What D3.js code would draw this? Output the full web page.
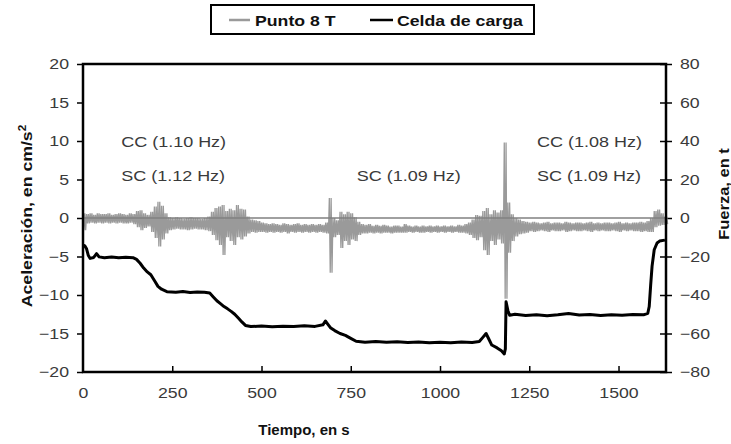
<!DOCTYPE html>
<html>
<head>
<meta charset="utf-8">
<script src="https://d3js.org/d3.v7.min.js"></script>
<style>
  body { margin: 0; background: #fff; }
  text { font-family: "Liberation Sans", Arial, sans-serif; }
</style>
</head>
<body>
<div id="chart"></div>
<script>
// series names
var seriesNames = ["Punto 8 T", "Celda de carga"];

// tick labels
var tickTime = [0, 250, 500, 750, 1000, 1250, 1500];
var tickAcc = [-20, -15, -10, -5, 0, 5, 10, 15, 20];
var tickFza = [-80, -60, -40, -20, 0, 20, 40, 60, 80];

// Celda de carga (t)
var fzaTime = [0, 5, 10, 15, 20, 30, 38, 45, 60, 80, 100, 120, 140, 150, 160, 170, 180, 190, 200, 210, 220, 235,
  260, 280, 300, 320, 340, 355, 365, 375, 385, 395, 405, 415, 425, 435, 445, 455, 470, 500, 530, 560, 590, 620,
  650, 672, 679, 685, 693, 705, 720, 735, 750, 765, 790, 820, 850, 880, 910, 940, 970, 1000, 1030, 1060, 1090,
  1110, 1120, 1129, 1137, 1145, 1160, 1172, 1180, 1183, 1185, 1190, 1195, 1210, 1240, 1270, 1300, 1330, 1360,
  1390, 1420, 1450, 1480, 1510, 1540, 1570, 1582, 1586, 1590, 1594, 1600, 1608, 1615, 1630];
var fzaVal = [-14, -14.5, -16, -19.5, -21, -20.5, -18.5, -20.2, -20.6, -20.3, -20.7, -20.4, -20.6, -21.5, -23.5,
  -26, -28, -29.5, -32.5, -35.5, -37, -38.3, -38.6, -38.2, -38.7, -38.4, -38.6, -39, -41, -43, -44.5, -46, -47.2,
  -48.5, -50, -52, -54, -55.8, -56.4, -56.1, -56.5, -56.2, -56.4, -56, -56.3, -55.5, -53.5, -55, -57, -58.5, -60,
  -61, -62.5, -64, -64.5, -64.2, -64.6, -64.3, -64.7, -64.4, -64.8, -64.5, -64.8, -64.4, -64.7, -64.2, -62, -60,
  -63, -66, -67.5, -69, -70.6, -68, -43.5, -48, -50.5, -50, -50.6, -50.2, -50.8, -50.3, -49.6, -50.4, -50.1,
  -50.6, -50.2, -50.5, -50.1, -50.3, -49.5, -46, -35, -25, -16.5, -13, -12, -11.5];

// Punto 8 T (cm/s2): max and min of the trace in each 10 s window
var accTime = d3.range(0, 1640, 10);
var accHi = [0.6, 0.5, 0.6, 0.4, 0.6, 0.5, 0.5, 0.6, 0.4, 0.5, 0.6, 0.5, 0.4, 0.6, 0.5, 0.9, 1.0, 0.6, 0.4, 0.8,
  1.5, 2.1, 1.6, 0.6, 0.1, 0.0, 0.1, 0.0, -0.1, 0.0, 0.1, 0.0, 0.0, -0.1, 0.0, 0.2, 0.8, 1.3, 1.5, 1.7,
  0.9, 1.2, 1.0, 1.7, 1.2, 1.1, 0.2, -0.2, -0.3, -0.4, -0.6, -0.7, -0.8, -0.7, -0.8, -0.9, -0.7, -0.8, -0.9, -0.8,
  -0.7, -0.9, -0.8, -0.9, -0.8, -0.9, -0.8, -0.9, -0.6, 2.6, 0.0, -0.3, 0.8, 0.5, 0.8, 0.6, 0.1, -0.5, -0.8, -0.9,
  -0.8, -1.0, -0.9, -1.0, -0.9, -1.0, -1.1, -1.0, -1.0, -1.1, -0.8, -1.0, -1.1, -1.0, -1.1, -1.0, -1.1, -1.0, -1.1, -1.0,
  -1.1, -1.0, -1.1, -1.0, -1.1, -0.9, -1.0, -0.8, -0.6, -0.2, 0.4, 0.3, 0.9, 1.3, 0.5, 1.0, 0.7, 1.0, 9.8, 2.0,
  0.5, 0.0, -0.2, -0.4, -0.5, -0.6, -0.5, -0.6, -0.7, -0.6, -0.5, -0.7, -0.6, -0.6, -0.7, -0.5, -0.6, -0.7, -0.6, -0.6,
  -0.7, -0.6, -0.5, -0.7, -0.6, -0.7, -0.6, -0.6, -0.7, -0.6, -0.5, -0.7, -0.6, -0.7, -0.6, -0.6, -0.5, -0.6, -0.4, 0.0,
  0.9, 1.1, 0.6, 0.2];
var accLo = [-1.6, -0.7, -0.6, -0.7, -0.6, -0.7, -0.6, -0.7, -0.6, -0.7, -0.6, -0.7, -0.7, -0.6, -0.8, -1.2, -1.6, -1.3, -1.1, -1.8,
  -2.6, -3.7, -2.8, -2.0, -1.6, -1.5, -1.4, -1.5, -1.5, -1.6, -1.5, -1.4, -1.5, -1.5, -1.6, -1.7, -2.2, -2.9, -3.5, -4.8,
  -2.5, -3.0, -3.5, -2.5, -2.8, -2.4, -2.0, -1.8, -1.9, -1.8, -1.8, -1.9, -1.8, -1.9, -1.8, -1.9, -1.8, -2.0, -1.8, -1.9,
  -1.8, -1.9, -1.8, -1.9, -1.8, -1.9, -1.8, -1.9, -2.0, -7.1, -2.5, -2.2, -3.9, -3.0, -3.5, -2.8, -3.0, -2.2, -2.0, -2.0,
  -1.9, -2.0, -1.9, -2.0, -1.9, -1.9, -2.0, -1.9, -1.9, -1.9, -1.9, -1.8, -1.9, -1.8, -1.9, -1.9, -1.8, -1.9, -1.8, -1.9,
  -1.8, -1.9, -1.8, -1.9, -1.8, -1.9, -1.9, -2.0, -2.2, -2.6, -2.9, -2.5, -4.2, -4.8, -3.0, -3.5, -2.8, -3.3, -10.5, -4.5,
  -3.0, -2.4, -2.1, -2.0, -1.9, -1.7, -1.8, -1.7, -1.6, -1.7, -1.8, -1.6, -1.7, -1.7, -1.6, -1.8, -1.7, -1.6, -1.7, -1.7,
  -1.6, -1.7, -1.8, -1.6, -1.7, -1.6, -1.7, -1.7, -1.6, -1.7, -1.8, -1.6, -1.7, -1.6, -1.7, -1.7, -1.8, -1.7, -1.8, -1.8,
  -1.2, -1.0, -0.9, -0.8];

// text notes, placed in (time, aceleración) units
var noteText = ["CC (1.10 Hz)", "SC (1.12 Hz)", "SC (1.09 Hz)", "CC (1.08 Hz)", "SC (1.09 Hz)"];
var noteTime = [107, 107, 767, 1272, 1272];
var noteAcc = [9.2, 4.8, 4.8, 9.2, 4.8];

var W = 731, H = 444;
var plotL = 83, plotR = 666, plotT = 64, plotB = 372;
var sx = 1.18;   // the original lettering is wide

var svg = d3.select("#chart").append("svg")
    .attr("width", W)
    .attr("height", H);

var x = d3.scaleLinear().domain([0, 1633]).range([plotL, plotR]);
var yAcc = d3.scaleLinear().domain([-20, 20]).range([plotB, plotT]);
var yFza = d3.scaleLinear().domain([-80, 80]).range([plotB, plotT]);

// axes
var axL = svg.append("g").attr("transform", "translate(" + plotL + ",0)")
    .call(d3.axisLeft(yAcc).tickValues(tickAcc).tickSize(6).tickPadding(8));
var axR = svg.append("g").attr("transform", "translate(" + plotR + ",0)")
    .call(d3.axisRight(yFza).tickValues(tickFza).tickSize(6).tickPadding(8));
var axB = svg.append("g").attr("transform", "translate(0," + plotB + ")")
    .call(d3.axisBottom(x).tickValues(tickTime).tickFormat(d3.format("d"))
        .tickSizeInner(-6).tickSizeOuter(0).tickPadding(15));

[axL, axR, axB].forEach(function(a) {
    a.select(".domain").remove();
    a.selectAll(".tick line").attr("stroke", "#000").attr("stroke-width", 1.5);
    a.selectAll(".tick text")
        .style("font-size", "15px")
        .attr("fill", "#3a3a3a")
        .attr("transform", "scale(" + sx + ",1)");
});
axL.selectAll(".tick text").attr("x", -14 / sx);
axR.selectAll(".tick text").attr("x", 14 / sx);
axR.selectAll(".tick line").attr("x1", -6).attr("x2", 6);
axB.selectAll(".tick").filter(function(d) { return d === 0; }).select("line").remove();

// dense trace between the max/min of each window
var accPts = [];
accTime.forEach(function(t, i) {
    accPts.push([t, accHi[i]]);
    accPts.push([t + 2.5, accLo[i]]);
    accPts.push([t + 5, accHi[i]]);
    accPts.push([t + 7.5, accLo[i]]);
});

svg.append("path")
    .datum(accPts)
    .attr("fill", "none")
    .attr("stroke", "#9a9a9a")
    .attr("stroke-width", 1.3)
    .attr("d", d3.line().x(function(d) { return x(d[0]); }).y(function(d) { return yAcc(d[1]); }));

// zero line
svg.append("line")
    .attr("x1", plotL).attr("x2", plotR)
    .attr("y1", yAcc(0)).attr("y2", yAcc(0))
    .attr("stroke", "#808080")
    .attr("stroke-width", 1.5);

svg.append("path")
    .datum(fzaTime.map(function(t, i) { return [t, fzaVal[i]]; }))
    .attr("fill", "none")
    .attr("stroke", "#000")
    .attr("stroke-width", 3)
    .attr("stroke-linejoin", "round")
    .attr("d", d3.line().x(function(d) { return x(d[0]); }).y(function(d) { return yFza(d[1]); }));

// frame
svg.append("rect")
    .attr("x", plotL).attr("y", plotT)
    .attr("width", plotR - plotL).attr("height", plotB - plotT)
    .attr("fill", "none")
    .attr("stroke", "#000")
    .attr("stroke-width", 2.5);

// notes
noteText.forEach(function(s, i) {
    svg.append("text")
        .attr("transform", "translate(" + x(noteTime[i]) + "," + yAcc(noteAcc[i]) + ") scale(1.2,1)")
        .style("font-size", "15px")
        .attr("fill", "#3a3a3a")
        .text(s);
});

// axis titles
var tl = svg.append("text")
    .attr("transform", "translate(32,216) rotate(-90) scale(" + sx + ",1)")
    .attr("text-anchor", "middle")
    .style("font-size", "15px")
    .style("font-weight", "bold")
    .attr("fill", "#111");
tl.append("tspan").text("Aceleración, en cm/s");
tl.append("tspan").attr("dy", -6).style("font-size", "10px").text("2");

svg.append("text")
    .attr("transform", "translate(729,194) rotate(-90) scale(1.1,1)")
    .attr("text-anchor", "middle")
    .style("font-size", "15px")
    .style("font-weight", "bold")
    .attr("fill", "#111")
    .text("Fuerza, en t");

svg.append("text")
    .attr("x", 304).attr("y", 435)
    .attr("text-anchor", "middle")
    .style("font-size", "15px")
    .style("font-weight", "bold")
    .attr("fill", "#111")
    .text("Tiempo, en s");

// legend
var lg = svg.append("g");
lg.append("rect")
    .attr("x", 211).attr("y", 5).attr("width", 323).attr("height", 29)
    .attr("fill", "#fff").attr("stroke", "#000").attr("stroke-width", 2);
var legColor = ["#9a9a9a", "#000"];
var legX = [229, 370];
var legLen = [21, 23];
var legTx = [255, 397];
seriesNames.forEach(function(s, i) {
    lg.append("line")
        .attr("x1", legX[i]).attr("x2", legX[i] + legLen[i])
        .attr("y1", 20).attr("y2", 20)
        .attr("stroke", legColor[i]).attr("stroke-width", 2.5);
    lg.append("text")
        .attr("transform", "translate(" + legTx[i] + ",26) scale(" + sx + ",1)")
        .style("font-size", "15px")
        .style("font-weight", "bold")
        .attr("fill", "#111")
        .text(s);
});
</script>
</body>
</html>
